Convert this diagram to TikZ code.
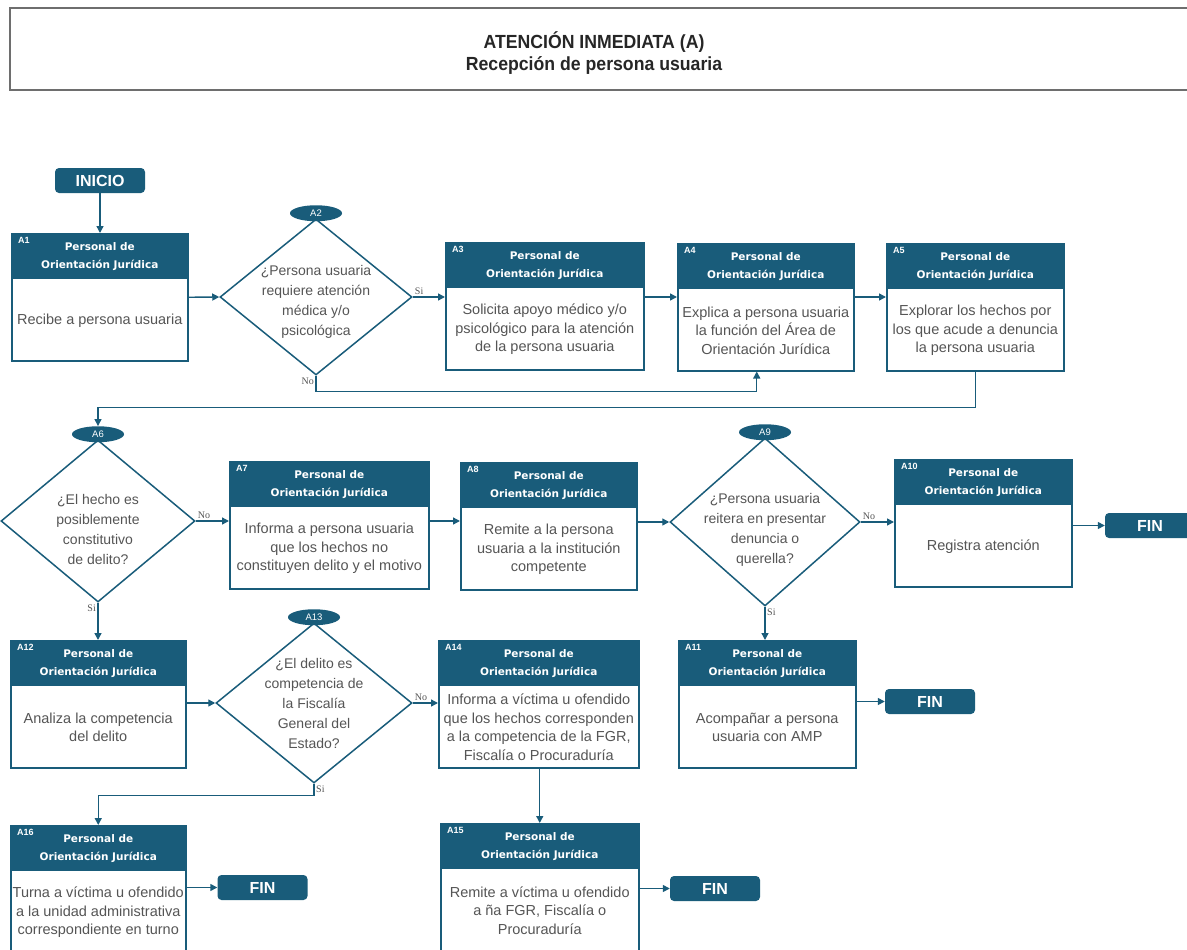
\documentclass[tikz,border=0pt]{standalone}
\usepackage{fontspec}
\setmainfont{Liberation Sans}
\newfontfamily\cabfam{DejaVu Sans}
\newfontfamily\titfam[FakeStretch=0.93]{Liberation Sans}
\newfontfamily\rotfam{Liberation Serif}
\usepackage{tikz}
\usetikzlibrary{shapes,arrows.meta}

\definecolor{azul}{RGB}{25,92,122}
\definecolor{gris}{RGB}{85,85,85}
\definecolor{marco}{RGB}{110,110,110}

\tikzset{
  caja/.style={draw=azul, fill=white, line width=1.5pt, minimum height=127pt, inner sep=0pt},
  cabeza/.style={fill=azul, text=white, minimum height=46pt, inner sep=0pt, align=center,
    font=\cabfam\bfseries\fontsize{10.5}{18}\selectfont},
  clave/.style={anchor=north west, text=white, inner sep=0pt, font=\bfseries\fontsize{9}{10}\selectfont},
  texto/.style={text=gris, align=center, inner sep=0pt, font=\fontsize{14.5}{18.5}\selectfont},
  decision/.style={diamond, draw=azul, fill=white, line width=1.5pt, inner sep=0pt},
  pregunta/.style={text=gris, align=center, inner sep=0pt, font=\fontsize{14}{20}\selectfont},
  marca/.style={ellipse, fill=azul, text=white, minimum width=52pt, minimum height=16pt,
    inner sep=0pt, font=\fontsize{9.5}{10}\selectfont},
  terminal/.style={fill=azul, text=white, rounded corners=4pt, minimum width=90pt,
    minimum height=25pt, inner sep=0pt, font=\bfseries\fontsize{16}{18}\selectfont},
  titulo/.style={align=center, text=black!85, font=\titfam\bfseries\fontsize{19}{22}\selectfont},
  flecha/.style={draw=azul, line width=1.4pt, -{Triangle[length=7pt,width=7pt]}},
  rotulo/.style={text=gris, inner sep=1.5pt, font=\rotfam\fontsize{10}{11}\selectfont},
}

% actividad: nombre, x, y (esquina superior izquierda), ancho, texto
\newcommand{\actividad}[5]{%
  \node[caja, minimum width=#4pt, anchor=north west] (#1) at (#2,-#3) {};
  \node[cabeza, minimum width=#4pt, anchor=north] (#1c) at (#1.north) {Personal de\\Orientación Jurídica};
  \node[clave] (#1k) at ([shift={(7pt,-4pt)}]#1.north west) {#1};
  \node[texto] (#1t) at ([yshift=-41pt]#1c.south) {#5};
}

\begin{document}
\begin{tikzpicture}[x=1pt, y=1pt]
  \useasboundingbox (0,0) rectangle (1187,-950);
  \clip (0,0) rectangle (1187,-950);

  % encabezado
  \draw[draw=marco, line width=1.5pt] (10,-8) rectangle (1200,-90);
  \node[titulo] (tit) at (594,-53) {ATENCIÓN INMEDIATA (A)\\Recepción de persona usuaria};

  \node[terminal] (ini) at (100,-180.5) {INICIO};

  % primera fila
  \actividad{A1}{11}{233}{176}{Recibe a persona usuaria}
  \node[decision, minimum width=192pt, minimum height=156pt] (A2) at (316,-297) {};
  \node[marca] (A2m) at ([yshift=5pt]A2.north) {A2};
  \node[pregunta] (A2t) at ([yshift=-5pt]A2.center) {¿Persona usuaria\\requiere atención\\médica y/o\\psicológica};
  \actividad{A3}{445}{242}{198}{Solicita apoyo médico y/o\\psicológico para la atención\\de la persona usuaria}
  \actividad{A4}{677}{243}{176}{Explica a persona usuaria\\la función del Área de\\Orientación Jurídica}
  \actividad{A5}{886}{243}{177}{Explorar los hechos por\\los que acude a denuncia\\la persona usuaria}

  % segunda fila
  \node[decision, minimum width=194pt, minimum height=162pt] (A6) at (98,-521) {};
  \node[marca] (A6m) at ([yshift=5pt]A6.north) {A6};
  \node[pregunta] (A6t) at ([yshift=-8pt]A6.center) {¿El hecho es\\posiblemente\\constitutivo\\de delito?};
  \actividad{A7}{229}{461}{199}{Informa a persona usuaria\\que los hechos no\\constituyen delito y el motivo}
  \actividad{A8}{460}{462}{176}{Remite a la persona\\usuaria a la institución\\competente}
  \node[decision, minimum width=190pt, minimum height=168pt] (A9) at (765,-522) {};
  \node[marca] (A9m) at ([yshift=5pt]A9.north) {A9};
  \node[pregunta] (A9t) at ([yshift=-8pt]A9.center) {¿Persona usuaria\\reitera en presentar\\denuncia o\\querella?};
  \actividad{A10}{894}{459}{177}{Registra atención}
  \node[terminal] (fin10) at (1150,-525.5) {FIN};

  % tercera fila
  \actividad{A12}{10}{640}{175}{Analiza la competencia\\del delito}
  \node[decision, minimum width=196pt, minimum height=160pt] (A13) at (314,-703) {};
  \node[marca] (A13m) at ([yshift=5pt]A13.north) {A13};
  \node[pregunta] (A13t) at (A13.center) {¿El delito es\\competencia de\\la Fiscalía\\General del\\Estado?};
  \actividad{A14}{438}{640}{200}{Informa a víctima u ofendido\\que los hechos corresponden\\a la competencia de la FGR,\\Fiscalía o Procuraduría}
  \actividad{A11}{678}{640}{177}{Acompañar a persona\\usuaria con AMP}
  \node[terminal] (fin11) at (930,-701.5) {FIN};

  % cuarta fila
  \actividad{A16}{10}{825}{175}{Turna a víctima u ofendido\\a la unidad administrativa\\correspondiente en turno}
  \node[terminal] (fin16) at (262.5,-887.5) {FIN};
  \actividad{A15}{440}{823}{198}{Remite a víctima u ofendido\\a ña FGR, Fiscalía o\\Procuraduría}
  \node[terminal] (fin15) at (715,-888.5) {FIN};

  % conectores
  \draw[flecha] (ini.south) -- (ini.south |- A1.north);
  \draw[flecha] (A1.east) -- (A2.west);
  \draw[flecha] (A2.east) node[rotulo, anchor=south west] (si2) {Si} -- (A2.east -| A3.west);
  \draw[flecha] (A3.east |- A2.east) -- (A4.west |- A2.east);
  \draw[flecha] (A4.east |- A2.east) -- (A5.west |- A2.east);
  \draw[flecha] (A2.south) node[rotulo, anchor=north east] (no2) {No} -- ++(0,-16) -| ([xshift=-9pt]A4.south);
  \draw[flecha] (A5.south) -- ++(0,-36) -| (A6m.north);
  \draw[flecha] (A6.east) node[rotulo, anchor=south west] (no6) {No} -- (A6.east -| A7.west);
  \draw[flecha] (A7.east |- A6.east) -- (A8.west |- A6.east);
  \draw[flecha] (A8.east |- A9.west) -- (A9.west);
  \draw[flecha] (A9.east) node[rotulo, anchor=south west] (no9) {No} -- (A9.east -| A10.west);
  \draw[flecha] (A10.east |- fin10.west) -- (fin10.west);
  \draw[flecha] (A9.south) node[rotulo, anchor=north west] (si9) {Si} -- (A9.south |- A11.north);
  \draw[flecha] (A11.east |- fin11.west) -- (fin11.west);
  \draw[flecha] (A6.south) node[rotulo, anchor=north east] (si6) {Si} -- (A6.south |- A12.north);
  \draw[flecha] (A12.east |- A13.west) -- (A13.west);
  \draw[flecha] (A13.east) node[rotulo, anchor=south west] (no13) {No} -- (A13.east -| A14.west);
  \draw[flecha] (A13.south) node[rotulo, anchor=north west] (si13) {Si} -- ++(0,-12) -| (A16.north);
  \draw[flecha] (A15.north |- A14.south) -- (A15.north);
  \draw[flecha] (A15.east |- fin15.west) -- (fin15.west);
  \draw[flecha] (A16.east |- fin16.west) -- (fin16.west);
\end{tikzpicture}
\end{document}
